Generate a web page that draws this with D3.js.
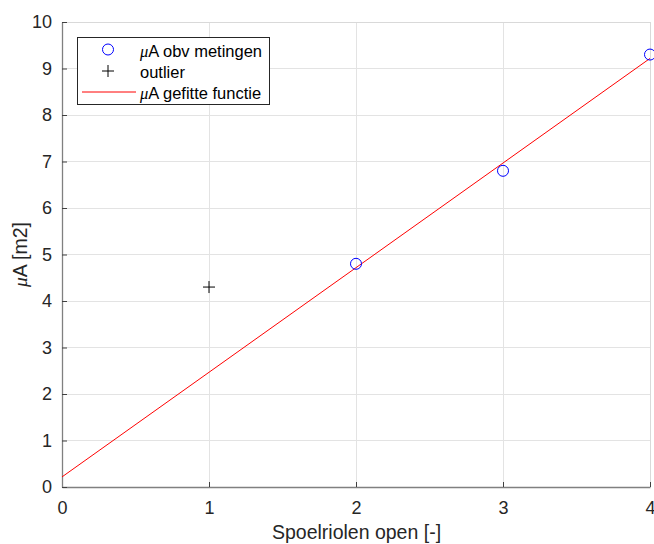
<!DOCTYPE html>
<html><head><meta charset="utf-8">
<script src="https://cdn.jsdelivr.net/npm/d3@7"></script>
<style>body{margin:0;background:#fff;} svg{display:block;font-family:"Liberation Sans",Arial,Helvetica,sans-serif;}</style>
</head><body>
<svg id="c" width="654" height="544"></svg>
<script>
const measX = [2, 3, 4];
const measY = [4.8, 6.8, 9.3];
const outX = [1];
const outY = [4.3];
const fitX = [0, 4];
const fitY = [0.217, 9.217];
const xTicks = [0, 1, 2, 3, 4];
const yTicks = [0, 1, 2, 3, 4, 5, 6, 7, 8, 9, 10];

const svg = d3.select("#c");
const L = 62, R = 650, T = 22, B = 487;
const x = d3.scaleLinear().domain([0, 4]).range([L, R]);
const y = d3.scaleLinear().domain([0, 10]).range([B, T]);
const tc = "#262626";

// grid
const g = svg.append("g");
g.selectAll(".gx").data(xTicks).enter().append("line")
  .attr("x1", d => x(d)).attr("x2", d => x(d)).attr("y1", T).attr("y2", B)
  .attr("stroke", "#e3e3e3").attr("stroke-width", 1).attr("shape-rendering", "crispEdges");
g.selectAll(".gy").data(yTicks).enter().append("line")
  .attr("x1", L).attr("x2", R).attr("y1", d => y(d)).attr("y2", d => y(d))
  .attr("stroke", "#e3e3e3").attr("stroke-width", 1).attr("shape-rendering", "crispEdges");
// box top/right
svg.append("line").attr("x1", L).attr("x2", R).attr("y1", T).attr("y2", T).attr("stroke", "#d9d9d9").attr("shape-rendering", "crispEdges");
svg.append("line").attr("x1", R).attr("x2", R).attr("y1", T).attr("y2", B).attr("stroke", "#d9d9d9").attr("shape-rendering", "crispEdges");

// axes
const xa = svg.append("g").attr("transform", `translate(0,${B})`)
  .call(d3.axisBottom(x).tickValues(xTicks).tickFormat(d3.format("d")).tickSizeInner(-5).tickSizeOuter(0).tickPadding(14));
const ya = svg.append("g").attr("transform", `translate(${L},0)`)
  .call(d3.axisLeft(y).tickValues(yTicks).tickFormat(d3.format("d")).tickSizeInner(-5).tickSizeOuter(0).tickPadding(10));
[xa, ya].forEach(a => {
  a.select(".domain").attr("stroke", "#808080").attr("stroke-width", 1.3);
  a.selectAll(".tick line").attr("stroke", "#404040");
  a.selectAll(".tick text").attr("fill", tc).attr("font-size", 18).attr("font-family", "Liberation Sans, Arial, sans-serif");
});

// fit line
svg.append("path").datum(fitX.map((d, i) => [d, fitY[i]]))
  .attr("d", d3.line().x(d => x(d[0])).y(d => y(d[1])))
  .attr("fill", "none").attr("stroke", "#ff0000").attr("stroke-width", 1);

// measurements
svg.selectAll(".m").data(measX.map((d, i) => [d, measY[i]])).enter().append("circle")
  .attr("cx", d => x(d[0])).attr("cy", d => y(d[1])).attr("r", 5.5)
  .attr("fill", "none").attr("stroke", "#0000ff").attr("stroke-width", 1);

// outlier
const plus = (sel, cx, cy, s) => {
  sel.append("path").attr("d", `M${cx - s},${cy}H${cx + s}M${cx},${cy - s}V${cy + s}`)
    .attr("stroke", "#000").attr("stroke-width", 1).attr("fill", "none");
};
outX.forEach((d, i) => plus(svg, x(d), y(outY[i]), 6));

// labels
svg.append("text").attr("x", (L + R) / 2 + 0.5).attr("y", 539).attr("text-anchor", "middle")
  .attr("font-size", 19.5).attr("fill", tc).text("Spoelriolen open [-]");
const yl = svg.append("text").attr("transform", `translate(27,${(T + B) / 2}) rotate(-90)`)
  .attr("text-anchor", "middle").attr("font-size", 19.5).attr("fill", tc);
yl.append("tspan").attr("font-style", "italic").attr("font-family", "Liberation Serif, serif").text("μ");
yl.append("tspan").text("A [m2]");

// legend
const lg = svg.append("g");
lg.append("rect").attr("x", 77.5).attr("y", 37.5).attr("width", 192).attr("height", 67)
  .attr("fill", "#fff").attr("stroke", "#262626").attr("stroke-width", 1);
const rows = [49.5, 71, 92];
lg.append("circle").attr("cx", 108).attr("cy", rows[0]).attr("r", 5.5).attr("fill", "none").attr("stroke", "#0000ff");
plus(lg, 108, rows[1], 6);
lg.append("line").attr("x1", 82).attr("x2", 136).attr("y1", rows[2]).attr("y2", rows[2]).attr("stroke", "#ff0000");
const legTexts = [["μ", "A obv metingen"], [null, "outlier"], ["μ", "A gefitte functie"]];
legTexts.forEach((t, i) => {
  const tx = lg.append("text").attr("x", 140).attr("y", rows[i] + 7).attr("font-size", 16.5).attr("fill", "#000");
  if (t[0]) tx.append("tspan").attr("font-style", "italic").attr("font-family", "Liberation Serif, serif").text(t[0]);
  tx.append("tspan").text(t[1]);
});
</script>
</body></html>
